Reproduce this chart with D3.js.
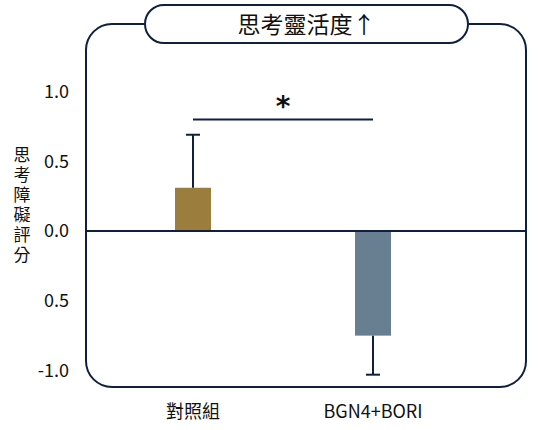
<!DOCTYPE html>
<html><head><meta charset="utf-8">
<script src="https://cdn.jsdelivr.net/npm/d3@7"></script>
<style>body{margin:0;background:#fff}svg{display:block}</style>
</head><body>
<script>
const categories = ["對照組", "BGN4+BORI"];
const means = [0.31, -0.75];
const errors = [0.38, 0.28];
const tickValues = [1.0, 0.5, 0.0, -0.5, -1.0];
const tickLabels = ["1.0", "0.5", "0.0", "0.5", "-1.0"];
const colors = ["#9b7e3e", "#687f92"];
const title = "思考靈活度↑";
const yTitle = "思考障礙評分";
const sigLevel = 0.8;
const sigMark = "*";

const W = 540, H = 430;
const font = "'Noto Sans CJK TC','Noto Sans',sans-serif";
const ink = "#0f1f40";
const svg = d3.select("body").append("svg").attr("width", W).attr("height", H);

const y = d3.scaleLinear().domain([-1, 1]).range([370.5, 91.5]);
const x = d3.scaleBand().domain(categories).range([103, 463]).paddingInner(0.8).paddingOuter(0.4);

// frame
svg.append("rect").attr("x", 86).attr("y", 24).attr("width", 440).attr("height", 363)
  .attr("rx", 26).attr("fill", "none").attr("stroke", ink).attr("stroke-width", 2);

// title pill
svg.append("rect").attr("x", 145).attr("y", 5).attr("width", 323).attr("height", 38)
  .attr("rx", 19).attr("fill", "#fff").attr("stroke", ink).attr("stroke-width", 2);
svg.append("text").attr("x", 306.5).attr("y", 32.5).attr("text-anchor", "middle")
  .attr("font-family", font).attr("font-size", 23).attr("fill", "#111").text(title);

// y axis tick labels
const yAxis = d3.axisLeft(y).tickValues(tickValues).tickSize(0).tickPadding(0)
  .tickFormat((d, i) => tickLabels[i]);
const ga = svg.append("g").attr("transform", "translate(69,0)").call(yAxis);
ga.select(".domain").remove();
ga.selectAll("text").attr("font-family", font).attr("font-size", 18).attr("fill", "#111");

// y title vertical
svg.append("text").attr("x", 22).attr("y", 146)
  .attr("font-family", font).attr("font-size", 17).attr("fill", "#111")
  .style("writing-mode", "vertical-rl").style("letter-spacing", "3px")
  .text(yTitle);

// bars
svg.selectAll("rect.bar").data(categories).join("rect").attr("class", "bar")
  .attr("x", d => x(d)).attr("width", x.bandwidth())
  .attr("y", (d, i) => y(Math.max(0, means[i])))
  .attr("height", (d, i) => Math.abs(y(means[i]) - y(0)))
  .attr("fill", (d, i) => colors[i]);

// error bars
categories.forEach((c, i) => {
  const cx = x(c) + x.bandwidth() / 2;
  const end = means[i] + Math.sign(means[i]) * errors[i];
  svg.append("line").attr("x1", cx).attr("x2", cx).attr("y1", y(means[i])).attr("y2", y(end))
    .attr("stroke", ink).attr("stroke-width", 2);
  svg.append("line").attr("x1", cx - 7).attr("x2", cx + 7).attr("y1", y(end)).attr("y2", y(end))
    .attr("stroke", ink).attr("stroke-width", 2);
});

// zero line
svg.append("line").attr("x1", 86).attr("x2", 526).attr("y1", y(0)).attr("y2", y(0))
  .attr("stroke", ink).attr("stroke-width", 2);

// significance
const c0 = x(categories[0]) + x.bandwidth() / 2, c1 = x(categories[1]) + x.bandwidth() / 2;
svg.append("line").attr("x1", c0).attr("x2", c1).attr("y1", y(sigLevel)).attr("y2", y(sigLevel))
  .attr("stroke", ink).attr("stroke-width", 2);
svg.append("text").attr("x", (c0 + c1) / 2).attr("y", y(sigLevel) - 3).attr("text-anchor", "middle")
  .attr("font-family", "'DejaVu Sans',sans-serif").attr("font-weight", "bold").attr("font-size", 28)
  .attr("fill", "#111").text(sigMark);

// category labels
const xAxis = d3.axisBottom(x).tickSize(0).tickPadding(0);
const gx = svg.append("g").attr("transform", "translate(0,405)").call(xAxis);
gx.select(".domain").remove();
gx.selectAll("text").attr("font-family", font).attr("font-size", 18).attr("fill", "#111");
</script>
</body></html>
